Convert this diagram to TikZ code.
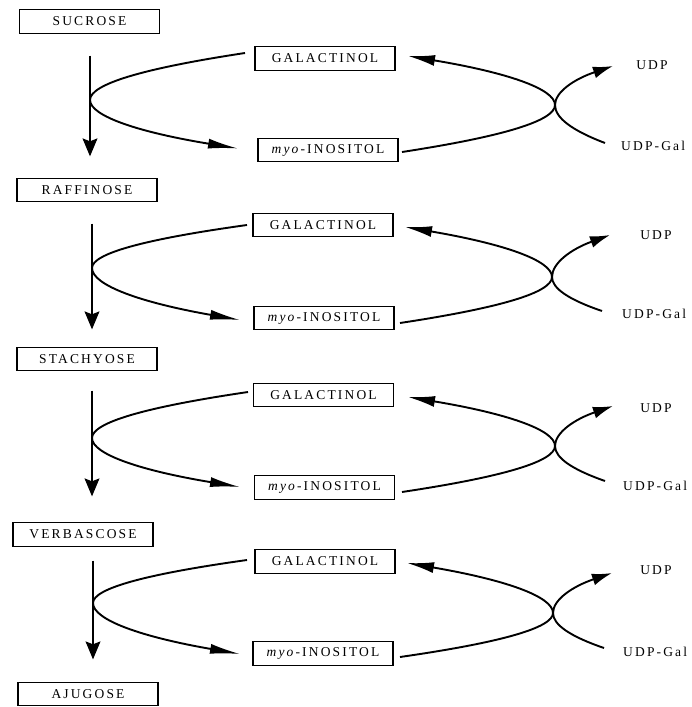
\documentclass[tikz,border=0pt]{standalone}
\usepackage{fontspec}
\setmainfont{Liberation Serif}[LetterSpace=16]
\usetikzlibrary{calc,arrows.meta}
\tikzset{
  box/.style={draw, line width=1.3pt, minimum width=140pt, minimum height=23.5pt, inner sep=0pt, font=\fontsize{13.5}{15}\selectfont},
  lbl/.style={inner sep=0pt, font=\fontsize{13.5}{15}\selectfont},
  curve/.style={line width=1.9pt},
  leftarrow/.style={-{Latex[length=30pt,width=10pt]}},
  galarrow/.style={-{Latex[length=27pt,width=11pt]}},
  udparrow/.style={-{Latex[length=20pt,width=12pt]}},
  downarrow/.style={line width=1.2pt,-{Stealth[length=18pt,width=15pt,inset=3pt]}},
}
% parabola-like curve: start #2, vertex #3 (vertical tangent), end #4
\newcommand\parab[4]{%
  \path ($(#2)!.5!(#3)$) coordinate (pm1) ($(#3)!.5!(#4)$) coordinate (pm2);
  \coordinate (pq1) at (#3 |- pm1);
  \coordinate (pq2) at (#3 |- pm2);
  \draw[curve,#1] (#2) .. controls ($(#2)!2/3!(pq1)$) and ($(#3)!2/3!(pq1)$) .. (#3)
     .. controls ($(#3)!2/3!(pq2)$) and ($(#4)!2/3!(pq2)$) .. (#4);
}
\newcommand\reaction[1]{%
  \parab{leftarrow}{ls#1}{lv#1}{le#1}
  \parab{galarrow}{rm#1}{rv#1}{rg#1}
  \parab{udparrow}{ru#1}{rv#1}{rp#1}
}
\begin{document}
\begin{tikzpicture}[x=1pt,y=-1pt]
\useasboundingbox (0,0) rectangle (692,707);
% boxes
\node[box] (top1) at (89.5,21.5) {SUCROSE};
\node[box] (top2) at (87,190) {RAFFINOSE};
\node[box] (top3) at (87,359) {STACHYOSE};
\node[box] (top4) at (83,534.5) {VERBASCOSE};
\node[box] (top5) at (88,694) {AJUGOSE};
\node[box] (gal1) at (325,58.5) {GALACTINOL};
\node[box] (gal2) at (323,225) {GALACTINOL};
\node[box] (gal3) at (323.5,395) {GALACTINOL};
\node[box] (gal4) at (325,561.5) {GALACTINOL};
\node[box] (myo1) at (328,150) {\textit{myo}-INOSITOL};
\node[box] (myo2) at (324,318) {\textit{myo}-INOSITOL};
\node[box] (myo3) at (324.5,487.5) {\textit{myo}-INOSITOL};
\node[box] (myo4) at (323,653.5) {\textit{myo}-INOSITOL};
\node[lbl] (udp1) at (652,65.5) {UDP};
\node[lbl] (udp2) at (656,235) {UDP};
\node[lbl] (udp3) at (656,408) {UDP};
\node[lbl] (udp4) at (656,570) {UDP};
\node[lbl,anchor=west] (ug1) at (621,146) {UDP-Gal};
\node[lbl,anchor=west] (ug2) at (622,313.5) {UDP-Gal};
\node[lbl,anchor=west] (ug3) at (623,486) {UDP-Gal};
\node[lbl,anchor=west] (ug4) at (623,652) {UDP-Gal};
% down arrows
\coordinate (d1) at (90,0);
\coordinate (d2) at (92,0);
\coordinate (d3) at (92,0);
\coordinate (d4) at (93,0);
\draw[downarrow,shorten <=21.75pt,shorten >=21.25pt] (top1.south -| d1) -- (top2.north -| d1);
\draw[downarrow,shorten <=21.25pt,shorten >=17.25pt] (top2.south -| d2) -- (top3.north -| d2);
\draw[downarrow,shorten <=19.25pt,shorten >=25.75pt] (top3.south -| d3) -- (top4.north -| d3);
\draw[downarrow,shorten <=13.75pt,shorten >=22.25pt] (top4.south -| d4) -- (top5.north -| d4);
% curve points
\coordinate (ls1) at (245,53);  \coordinate (lv1) at (90,100);  \coordinate (le1) at (238,148.5);
\coordinate (rm1) at (402,152); \coordinate (rv1) at (555,105); \coordinate (rg1) at (408,56);
\coordinate (ru1) at (605,143); \coordinate (rp1) at (613,66);
\coordinate (ls2) at (247,225); \coordinate (lv2) at (92,268);  \coordinate (le2) at (240,320);
\coordinate (rm2) at (400,323); \coordinate (rv2) at (552,277); \coordinate (rg2) at (405,227);
\coordinate (ru2) at (602,311); \coordinate (rp2) at (610,235);
\coordinate (ls3) at (248,392); \coordinate (lv3) at (92,438);  \coordinate (le3) at (240,487);
\coordinate (rm3) at (402,492); \coordinate (rv3) at (555,446); \coordinate (rg3) at (408,397);
\coordinate (ru3) at (605,481); \coordinate (rp3) at (613,406);
\coordinate (ls4) at (247,560); \coordinate (lv4) at (93,603);  \coordinate (le4) at (240,654);
\coordinate (rm4) at (400,657); \coordinate (rv4) at (553,613); \coordinate (rg4) at (407,563);
\coordinate (ru4) at (604,648); \coordinate (rp4) at (612,573);
\reaction{1}
\reaction{2}
\reaction{3}
\reaction{4}
\end{tikzpicture}
\end{document}
